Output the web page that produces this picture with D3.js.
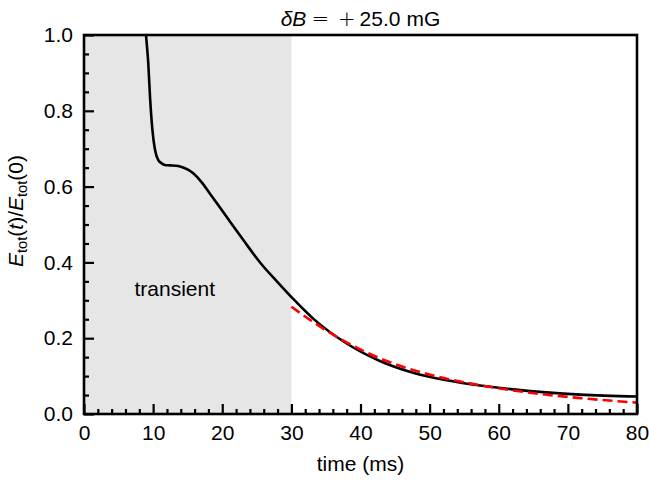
<!DOCTYPE html>
<html>
<head>
<meta charset="utf-8">
<script src="https://cdn.jsdelivr.net/npm/d3@7"></script>
<style>
  body { margin: 0; background: #fff; }
  text { font-family: "Liberation Sans", Arial, sans-serif; }
</style>
</head>
<body>
<div id="container"></div>
<script>
/* DATA */
// black curve: total energy ratio vs time (ms)
const timeBlack = [8.5, 8.97, 9.3, 9.55, 9.9, 10.27, 10.75, 11.2, 11.7, 12.4, 13.3, 13.9, 15.1, 15.8, 17.0, 18.2, 20.6, 23.05, 25.5, 27.9, 30.3, 33.2, 38, 42.8, 47.6, 52.5, 57.3, 62.1, 66.9, 71.8, 80];
const energyBlack = [1.12, 1.0, 0.925, 0.837, 0.749, 0.697, 0.670, 0.662, 0.657, 0.656, 0.655, 0.653, 0.644, 0.635, 0.612, 0.582, 0.521, 0.459, 0.399, 0.350, 0.303, 0.251, 0.186, 0.140, 0.109, 0.089, 0.075, 0.065, 0.057, 0.051, 0.046];
// red dashed fit
const timeFit = [30.0, 33.2, 38, 42.8, 47.6, 52.5, 57.3, 62.1, 66.9, 71.8, 80];
const energyFit = [0.283, 0.242, 0.189, 0.147, 0.116, 0.093, 0.076, 0.062, 0.051, 0.042, 0.030];
const transientEnd = 30;
const xTicks = [0, 10, 20, 30, 40, 50, 60, 70, 80];
const yTicks = [0.0, 0.2, 0.4, 0.6, 0.8, 1.0];

/* CONSTANTS */
const width = 649, height = 483,
  margin = {top: 35, bottom: 69, left: 84, right: 12};
const fs = 21;

const svg = d3.select("#container")
  .append("svg")
  .attr("width", width)
  .attr("height", height);

// SCALES
const xScale = d3.scaleLinear()
  .domain([0, 80])
  .range([margin.left, width - margin.right]);

const yScale = d3.scaleLinear()
  .domain([0, 1])
  .range([height - margin.bottom, margin.top]);

svg.append("clipPath").attr("id", "clip")
  .append("rect")
  .attr("x", margin.left).attr("y", margin.top)
  .attr("width", xScale(80) - xScale(0))
  .attr("height", yScale(0) - yScale(1));

// transient shading
svg.append("rect")
  .attr("x", xScale(0)).attr("y", yScale(1))
  .attr("width", xScale(transientEnd) - xScale(0))
  .attr("height", yScale(0) - yScale(1))
  .attr("fill", "#e6e6e6");

svg.append("text")
  .attr("x", xScale(7.3)).attr("y", yScale(0.33) + 7)
  .attr("font-size", fs)
  .text("transient");

// LINES
const lineGen = d3.line()
  .x(d => xScale(d[0]))
  .y(d => yScale(d[1]))
  .curve(d3.curveMonotoneX);

const plot = svg.append("g").attr("clip-path", "url(#clip)");

plot.append("path")
  .attr("d", lineGen(d3.zip(timeBlack, energyBlack)))
  .attr("fill", "none")
  .attr("stroke", "black")
  .attr("stroke-width", 2.6);

plot.append("path")
  .attr("d", lineGen(d3.zip(timeFit, energyFit)))
  .attr("fill", "none")
  .attr("stroke", "#ff0000")
  .attr("stroke-width", 2.6)
  .attr("stroke-dasharray", "10,5");

// AXES (inward ticks)
const xMinor = d3.range(0, 81, 2).filter(v => v % 10 !== 0);
const yMinor = d3.range(0, 1.001, 0.05).filter(v => Math.abs(v * 5 - Math.round(v * 5)) > 1e-6);

svg.append("g")
  .attr("transform", `translate(0, ${yScale(0)})`)
  .call(d3.axisBottom(xScale).tickValues(xTicks).tickSize(-10).tickPadding(11).tickFormat(d3.format("d")));
svg.append("g")
  .attr("transform", `translate(0, ${yScale(0)})`)
  .call(d3.axisBottom(xScale).tickValues(xMinor).tickSize(-5).tickFormat(""));

svg.append("g")
  .attr("transform", `translate(${xScale(0)}, 0)`)
  .call(d3.axisLeft(yScale).tickValues(yTicks).tickSize(-10).tickPadding(11).tickFormat(d3.format(".1f")));
svg.append("g")
  .attr("transform", `translate(${xScale(0)}, 0)`)
  .call(d3.axisLeft(yScale).tickValues(yMinor).tickSize(-5).tickFormat(""));

svg.selectAll(".domain").remove();
svg.selectAll(".tick line").attr("stroke", "black").attr("stroke-width", 2.2);
svg.selectAll(".tick text")
  .attr("font-size", fs)
  .attr("font-family", "Liberation Sans, Arial, sans-serif")
  .attr("fill", "black");

// frame
svg.append("rect")
  .attr("x", xScale(0)).attr("y", yScale(1))
  .attr("width", xScale(80) - xScale(0))
  .attr("height", yScale(0) - yScale(1))
  .attr("fill", "none")
  .attr("stroke", "black")
  .attr("stroke-width", 2.6);

// LABELS
svg.append("text")
  .attr("x", (xScale(0) + xScale(80)) / 2)
  .attr("y", height - 12)
  .attr("text-anchor", "middle")
  .attr("font-size", fs)
  .text("time (ms)");

const title = svg.append("text")
  .attr("x", (xScale(0) + xScale(80)) / 2)
  .attr("y", 26)
  .attr("text-anchor", "middle")
  .attr("font-size", fs);
title.append("tspan").attr("font-style", "italic").text("δB");
title.append("tspan").attr("dx", 5).attr("font-family", "DejaVu Sans").attr("font-weight", 300).text("=");
title.append("tspan").attr("dx", 9).attr("font-family", "DejaVu Sans").attr("font-weight", 300).text("+");
title.append("tspan").attr("dx", 4).text("25.0");
title.append("tspan").attr("dx", 6).text("mG");

const yLabel = svg.append("text")
  .attr("transform", `translate(23, 211) rotate(-90)`)
  .attr("text-anchor", "middle")
  .attr("font-size", fs);
yLabel.append("tspan").attr("font-style", "italic").text("E");
yLabel.append("tspan").attr("font-size", fs * 0.7).attr("dy", 4).text("tot");
yLabel.append("tspan").attr("dy", -4).text("(");
yLabel.append("tspan").attr("font-style", "italic").text("t");
yLabel.append("tspan").text(")/");
yLabel.append("tspan").attr("font-style", "italic").text("E");
yLabel.append("tspan").attr("font-size", fs * 0.7).attr("dy", 4).text("tot");
yLabel.append("tspan").attr("dy", -4).text("(0)");
</script>
</body>
</html>
